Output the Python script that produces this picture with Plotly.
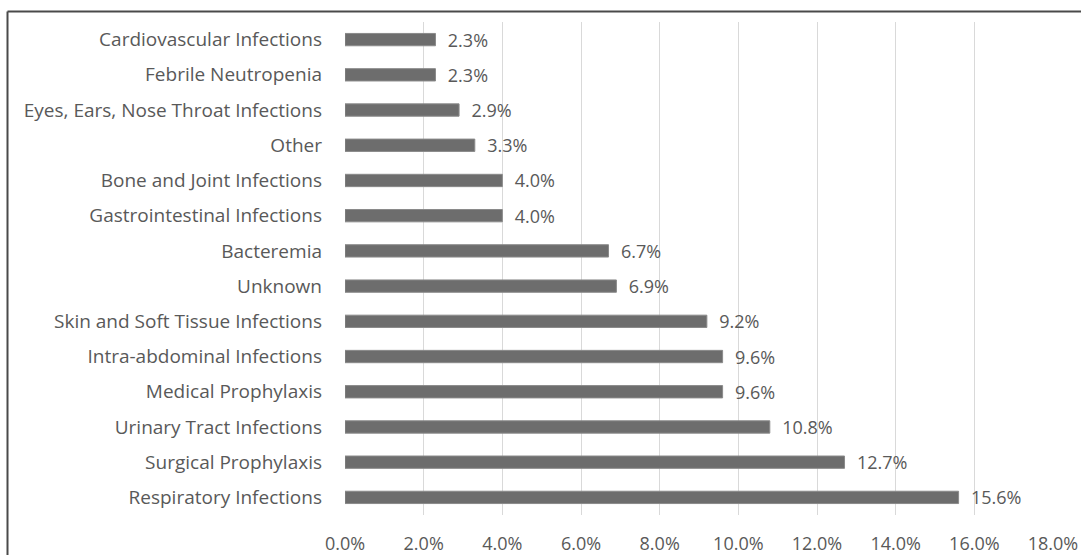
import plotly.graph_objects as go

categories = [
    "Cardiovascular Infections",
    "Febrile Neutropenia",
    "Eyes, Ears, Nose Throat Infections",
    "Other",
    "Bone and Joint Infections",
    "Gastrointestinal Infections",
    "Bacteremia",
    "Unknown",
    "Skin and Soft Tissue Infections",
    "Intra-abdominal Infections",
    "Medical Prophylaxis",
    "Urinary Tract Infections",
    "Surgical Prophylaxis",
    "Respiratory Infections",
]
values = [2.3, 2.3, 2.9, 3.3, 4.0, 4.0, 6.7, 6.9, 9.2, 9.6, 9.6, 10.8, 12.7, 15.6]
x_ticks = [0, 2, 4, 6, 8, 10, 12, 14, 16, 18]

font_family = "'Open Sans', Lato, sans-serif"
text_color = "#595959"

fig = go.Figure(
    go.Bar(
        x=values,
        y=categories,
        orientation="h",
        width=0.35,
        marker=dict(color="#6d6d6d", line=dict(color="#8a8a8a", width=1)),
        text=[f"{v:.1f}%" for v in values],
        texttemplate="  %{text}",
        textposition="outside",
        constraintext="none",
        cliponaxis=False,
        textfont=dict(family=font_family, size=18, color=text_color),
    )
)

W, H = 1081, 555
ml, mr, mt, mb = 345, 28, 22, 40
pw = W - ml - mr
ph = H - mt - mb

fig.update_layout(
    width=W,
    height=H,
    margin=dict(l=ml, r=mr, t=mt, b=mb, pad=0, autoexpand=False),
    paper_bgcolor="white",
    plot_bgcolor="white",
    showlegend=False,
    font=dict(family=font_family, size=18, color=text_color),
    xaxis=dict(
        range=[0, 18],
        tickvals=x_ticks,
        ticktext=[f"{t:.1f}%" for t in x_ticks],
        showgrid=True,
        gridcolor="#d9d9d9",
        gridwidth=1,
        zeroline=False,
        showline=False,
        ticks="",
        automargin=False,
        ticklabelstandoff=16,
        tickfont=dict(size=18, color=text_color),
    ),
    yaxis=dict(
        categoryorder="array",
        categoryarray=categories[::-1],
        autorange=False,
        range=[-0.5, len(categories) - 0.5],
        showgrid=False,
        zeroline=False,
        showline=False,
        ticks="",
        automargin=False,
        ticklabelstandoff=22,
        tickfont=dict(size=19, color=text_color),
    ),
)

# outer frame (top and left edges visible in the reference)
top_y = 1 + (mt - 11.5) / ph
left_x = (7.5 - ml) / pw
fig.add_shape(type="line", xref="paper", yref="paper",
              x0=left_x, x1=(W - ml + 5) / pw, y0=top_y, y1=top_y,
              line=dict(color="#4a4a4a", width=2))
fig.add_shape(type="line", xref="paper", yref="paper",
              x0=left_x, x1=left_x, y0=top_y, y1=-(mb + 5) / ph,
              line=dict(color="#4a4a4a", width=2))

fig.write_html("out.html")
